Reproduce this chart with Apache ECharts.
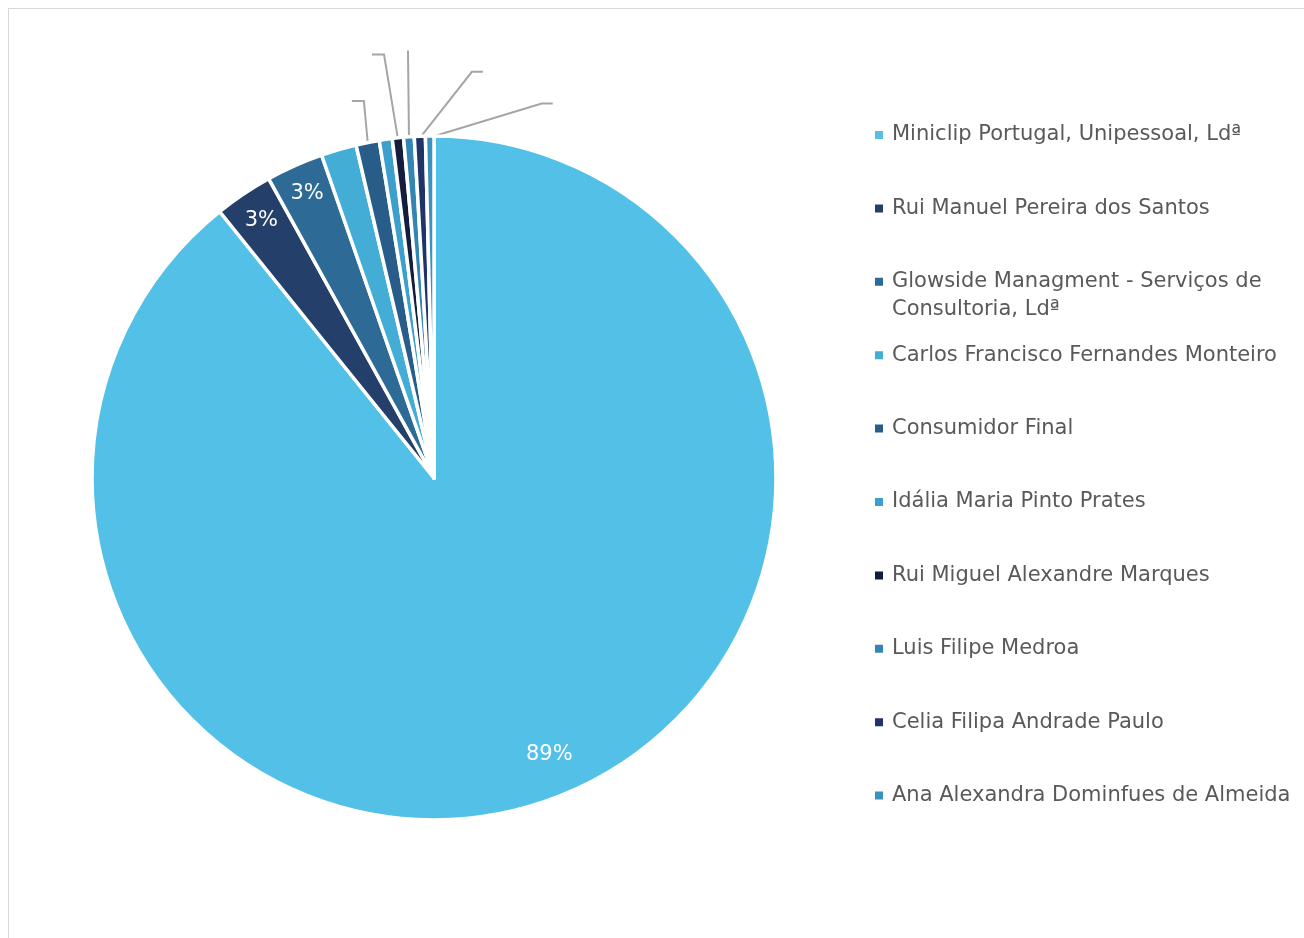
<!DOCTYPE html>
<html><head><meta charset="utf-8">
<script src="https://cdn.jsdelivr.net/npm/echarts@6/dist/echarts.min.js"></script>
<style>
html,body{margin:0;padding:0;background:#fff;overflow:hidden;width:1304px;height:938px}
#wrap{position:relative;width:1304px;height:938px;overflow:hidden}
#frame{position:absolute;left:8px;top:8px;width:1500px;height:1200px;border-left:1.5px solid #d9d9d9;border-top:1.5px solid #d9d9d9;box-sizing:border-box}
#chart{position:absolute;left:0;top:0;width:1304px;height:938px}
</style></head><body>
<div id="wrap"><div id="frame"></div><div id="chart"></div></div>
<script>
// ---- data ----
const names = [
  'Miniclip Portugal, Unipessoal, Ldª',
  'Rui Manuel Pereira dos Santos',
  'Glowside Managment - Serviços de Consultoria, Ldª',
  'Carlos Francisco Fernandes Monteiro',
  'Consumidor Final',
  'Idália Maria Pinto Prates',
  'Rui Miguel Alexandre Marques',
  'Luis Filipe Medroa',
  'Celia Filipa Andrade Paulo',
  'Ana Alexandra Dominfues de Almeida'
];
const values = [89.2, 2.75, 2.7, 1.67, 1.1, 0.61, 0.53, 0.5, 0.52, 0.4];

// ---- styles ----
const colors = ['#53C0E8','#253F6B','#2D6A95','#44ADD5','#285D8A','#3D9FCB','#141E3C','#3386B3','#20336A','#3992BF'];
const FONT = 'DejaVu Sans';
const CX = 434, CY = 478, R = 342;
// inside label placement: [radial fraction, angular shift in degrees]
const insidePlace = {0: [0.877, -3.2], 1: [0.906, 0], 2: [0.91, 0]};
// leader lines (labels drawn in white, as in the source): [bend dx, bend dy, horizontal tail]
const leaderPlace = {4: [-4, -43, -12], 6: [-14, -85, -12], 7: [-1, -88, 0], 8: [52, -66, 11], 9: [112, -34, 11]};

const total = values.reduce((a, b) => a + b, 0);
let cum = 0;
const midDeg = values.map(v => { const m = (cum + v / 2) / total * 360; cum += v; return m; });
const rad = d => d * Math.PI / 180;

const data = names.map((n, i) => {
  const item = { name: n, value: values[i], itemStyle: { color: colors[i] } };
  if (insidePlace[i]) {
    item.label = { show: true, position: 'inside' };
    item.labelLine = { show: false };
  } else if (leaderPlace[i]) {
    item.label = { show: true, position: 'outside', color: '#ffffff' };
    item.labelLine = { show: true };
  } else {
    item.label = { show: false };
    item.labelLine = { show: false };
  }
  return item;
});

function wrap(s, max) {
  const words = s.split(' '); const lines = []; let cur = '';
  words.forEach(w => {
    const t = cur ? cur + ' ' + w : w;
    if (t.length > max && cur) { lines.push(cur); cur = w; } else cur = t;
  });
  if (cur) lines.push(cur);
  return lines;
}

const LH = 28;
const legends = names.map((n, i) => {
  const lines = wrap(n, 35);
  const L = lines.length;
  // leading empty lines keep the marker level with the first text line
  const shown = new Array(L - 1).fill('').concat(lines);
  const c = 135 + i * 73.4;
  const block = shown.length * LH;
  return {
    orient: 'vertical', left: 873, top: c - block / 2, padding: 0,
    itemWidth: 10, itemHeight: 10, icon: 'rect', selectedMode: false,
    data: [n],
    formatter: () => shown.join('\n'),
    textStyle: { fontFamily: FONT, fontSize: 21, color: '#595959', lineHeight: LH,
                 padding: [0, 0, 0, 3] }
  };
});

const chart = echarts.init(document.getElementById('chart'), null, { renderer: 'canvas' });
chart.setOption({
  animation: false,
  backgroundColor: 'transparent',
  legend: legends,
  series: [{
    type: 'pie',
    center: [CX, CY],
    radius: [0, R],
    startAngle: 90,
    clockwise: true,
    avoidLabelOverlap: false,
    emphasis: { disabled: true },
    itemStyle: { borderColor: '#ffffff', borderWidth: 3.5 },
    label: {
      fontFamily: FONT, fontSize: 21, color: '#ffffff',
      formatter: p => Math.round(p.percent) + '%'
    },
    labelLine: { lineStyle: { color: '#A5A5A5', width: 2 } },
    labelLayout: function (p) {
      const i = p.dataIndex;
      if (insidePlace[i]) {
        const a = rad(midDeg[i] + insidePlace[i][1]);
        const f = insidePlace[i][0];
        return { x: CX + f * R * Math.sin(a), y: CY - f * R * Math.cos(a), align: 'center', verticalAlign: 'middle' };
      }
      if (leaderPlace[i]) {
        const a = rad(midDeg[i]);
        const s = [CX + (R - 1.5) * Math.sin(a), CY - (R - 1.5) * Math.cos(a)];
        const b = [s[0] + leaderPlace[i][0], s[1] + leaderPlace[i][1]];
        const h = leaderPlace[i][2];
        const e = [b[0] + h, b[1]];
        return {
          x: e[0], y: e[1],
          align: h < 0 ? 'right' : (h > 0 ? 'left' : 'center'),
          verticalAlign: h === 0 ? 'bottom' : 'middle',
          labelLinePoints: [s, b, e]
        };
      }
      return {};
    },
    data: data
  }]
});
</script>
</body></html>
